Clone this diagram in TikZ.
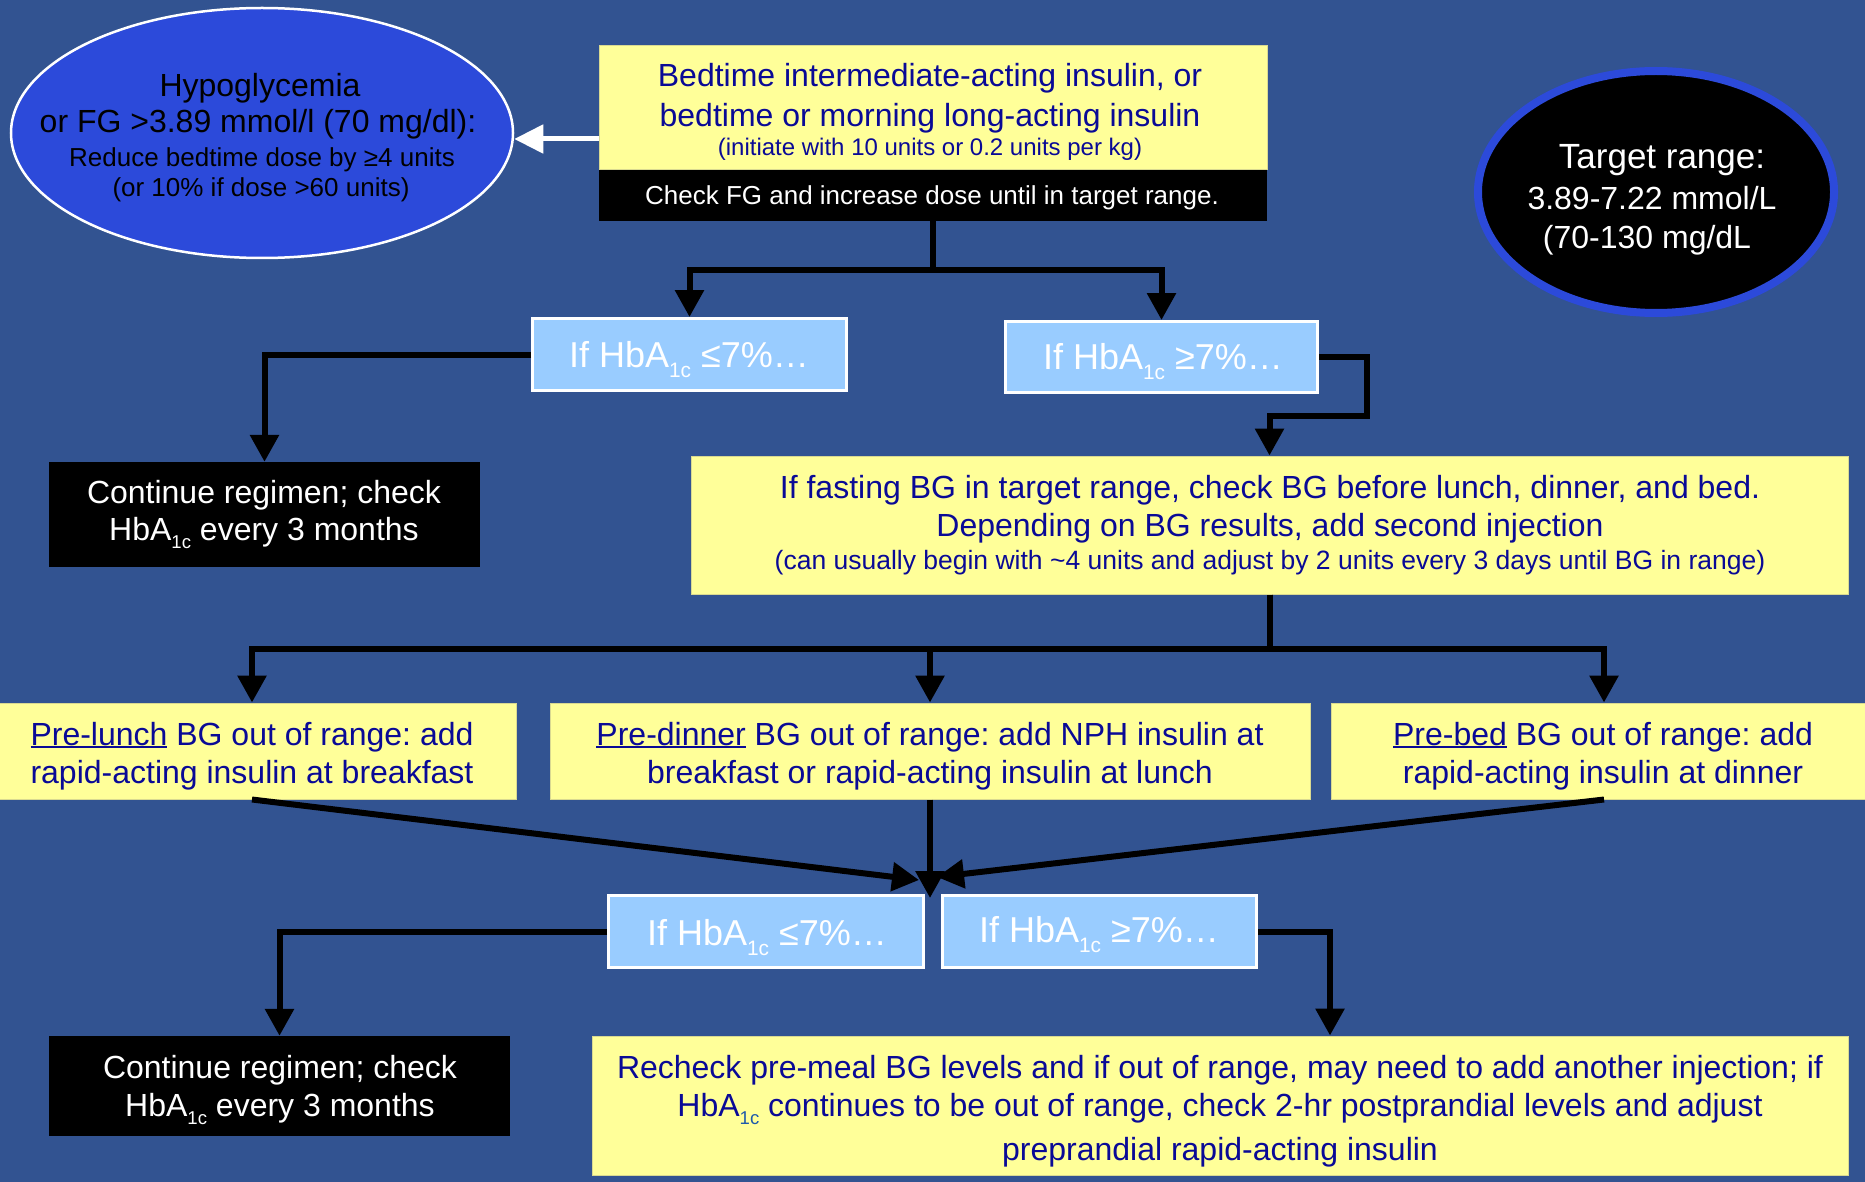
\documentclass[tikz,border=0pt]{standalone}
\usepackage{fontspec}
\setmainfont{Liberation Sans}
\usetikzlibrary{shapes.geometric,arrows.meta}
\definecolor{bgblue}{RGB}{50,83,145}
\definecolor{ellblue}{RGB}{44,74,218}
\definecolor{pyellow}{RGB}{255,255,153}
\definecolor{navy}{RGB}{10,10,150}
\definecolor{lblue}{RGB}{153,204,255}
\definecolor{subblue}{RGB}{30,90,170}
\newcommand\sbs[1]{\raisebox{-0.28em}{\scalebox{0.58}{#1}}}
\newcommand\uln[1]{\setbox0=\hbox{#1}\rlap{\rule[-0.09em]{\wd0}{0.06em}}\box0\relax}
\newcommand\fsz[1]{\fontsize{#1}{#1}\selectfont}
\frenchspacing
\tikzset{
  boxy/.style={rectangle, fill=pyellow, draw=pyellow!70!gray, line width=1, inner sep=0},
  boxk/.style={rectangle, fill=black, inner sep=0},
  boxh/.style={rectangle, fill=lblue, draw=white, line width=3, inner sep=0},
  tx/.style={inner sep=0, anchor=base},
  arr/.style={draw=black, line width=6, -{Triangle[width=28pt,length=27pt]}},
  warr/.style={draw=white, line width=5, -{Triangle[width=28pt,length=29pt]}},
}
\begin{document}
\frenchspacing
\begin{tikzpicture}[x=1pt,y=-1pt]
\fill[bgblue] (0,0) rectangle (1865,1182);
\useasboundingbox (0,0) rectangle (1865,1182);

% shapes
\node[ellipse, fill=ellblue, draw=white, line width=2.5, minimum width=502, minimum height=250, inner sep=0] (hypo) at (262,133) {};
\node[ellipse, fill=black, draw=ellblue, line width=8, minimum width=356, minimum height=242, inner sep=0] (tgt) at (1656,192) {};
\node[boxy, minimum width=668, minimum height=124] (topY) at (933,108) {};
\node[boxk, minimum width=668, minimum height=51] (chk) at (933,195.5) {};
\node[boxh, minimum width=314, minimum height=72] (hL1) at (689.5,354.5) {};
\node[boxh, minimum width=312, minimum height=71] (hR1) at (1161.5,357) {};
\node[boxk, minimum width=431, minimum height=105] (c1) at (264.5,514.5) {};
\node[boxy, minimum width=1157, minimum height=138] (b2) at (1269.5,525) {};
\node[boxy, minimum width=528, minimum height=96] (ra) at (252,751) {};
\node[boxy, minimum width=760, minimum height=96] (rb) at (930,751) {};
\node[boxy, minimum width=546, minimum height=96] (rc) at (1604,751) {};
\node[boxh, minimum width=315, minimum height=72] (hL2) at (766,931.5) {};
\node[boxh, minimum width=314, minimum height=72] (hR2) at (1099.5,931.5) {};
\node[boxk, minimum width=461, minimum height=100] (c2) at (279.5,1086) {};
\node[boxy, minimum width=1256, minimum height=139] (b3) at (1220,1105.5) {};

% texts
\node[tx, font=\fsz{32}] (hy1) at (260,97) {Hypoglycemia};
\node[tx, font=\fsz{32}] (hy2) at (258,133) {or FG >3.89 mmol/l (70 mg/dl):};
\node[tx, font=\fsz{26}] (hy3) at (262,167) {Reduce bedtime dose by ≥4 units};
\node[tx, font=\fsz{26}] (hy4) at (261,197) {(or 10\% if dose >60 units)};

\node[tx, font=\fsz{32}, text=navy] (tp1) at (930,87) {Bedtime intermediate-acting insulin, or};
\node[tx, font=\fsz{32}, text=navy] (tp2) at (930,127) {bedtime or morning long-acting insulin};
\node[tx, font=\fsz{24}, text=navy] (tp3) at (930,156) {(initiate with 10 units or 0.2 units per kg)};
\node[tx, font=\fsz{26}, text=white] (ck1) at (932,205) {Check FG and increase dose until in target range.};

\node[tx, font=\fsz{35}, text=white] (tg1) at (1662,169) {Target range:};
\node[tx, font=\fsz{32}, text=white] (tg2) at (1652,210) {3.89-7.22 mmol/L};
\node[tx, font=\fsz{32}, text=white] (tg3) at (1647,249) {(70-130 mg/dL};

\node[tx, font=\fsz{36}, text=white] (hl1t) at (689,367) {If HbA\sbs{1c} ≤7\%…};
\node[tx, font=\fsz{36}, text=white] (hr1t) at (1163,369) {If HbA\sbs{1c} ≥7\%…};

\node[tx, font=\fsz{32}, text=white] (c1a) at (264,503) {Continue regimen; check};
\node[tx, font=\fsz{32}, text=white] (c1b) at (264,540) {HbA\sbs{1c} every 3 months};

\node[tx, font=\fsz{32}, text=navy] (b2a) at (1270,498) {If fasting BG in target range, check BG before lunch, dinner, and bed.};
\node[tx, font=\fsz{32}, text=navy] (b2b) at (1270,536) {Depending on BG results, add second injection};
\node[tx, font=\fsz{26.5}, text=navy] (b2c) at (1270,569) {(can usually begin with \textasciitilde4 units and adjust by 2 units every 3 days until BG in range)};

\node[tx, font=\fsz{32}, text=navy] (raa) at (252,745) {\uln{Pre-lunch} BG out of range: add};
\node[tx, font=\fsz{32}, text=navy] (rab) at (252,783) {rapid-acting insulin at breakfast};
\node[tx, font=\fsz{32}, text=navy] (rba) at (930,745) {\uln{Pre-dinner} BG out of range: add NPH insulin at};
\node[tx, font=\fsz{32}, text=navy] (rbb) at (930,783) {breakfast or rapid-acting insulin at lunch};
\node[tx, font=\fsz{32}, text=navy] (rca) at (1603,745) {\uln{Pre-bed} BG out of range: add};
\node[tx, font=\fsz{32}, text=navy] (rcb) at (1603,783) {rapid-acting insulin at dinner};

\node[tx, font=\fsz{36}, text=white] (hl2t) at (767,945) {If HbA\sbs{1c} ≤7\%…};
\node[tx, font=\fsz{36}, text=white] (hr2t) at (1099,942) {If HbA\sbs{1c} ≥7\%…};

\node[tx, font=\fsz{32}, text=white] (c2a) at (280,1078) {Continue regimen; check};
\node[tx, font=\fsz{32}, text=white] (c2b) at (280,1116) {HbA\sbs{1c} every 3 months};

\node[tx, font=\fsz{32}, text=navy] (b3a) at (1220,1078) {Recheck pre-meal BG levels and if out of range, may need to add another injection; if};
\node[tx, font=\fsz{32}, text=navy] (b3b) at (1220,1116) {HbA\textcolor{subblue}{\sbs{1c}} continues to be out of range, check 2-hr postprandial levels and adjust};
\node[tx, font=\fsz{32}, text=navy] (b3c) at (1220,1160) {preprandial rapid-acting insulin};

% connectors
\draw[warr] (topY.west |- 0,139) -- (hypo.east |- 0,139);
\draw[arr] (chk.south) -- ++(0,49) -| (hL1.north);
\draw[arr] (chk.south) -- ++(0,49) -| (hR1.north);
\draw[arr] (hL1.west) -| (c1.north);
\draw[arr] (hR1.east) -- ++(48,0) -- ++(0,59) -| (b2.north);
\draw[arr] (b2.south) -- ++(0,54) -| (ra.north);
\draw[arr] (b2.south) -- ++(0,54) -| (rb.north);
\draw[arr] (b2.south) -- ++(0,54) -| (rc.north);
\coordinate (mL) at (919,880);
\coordinate (mC) at (930,898);
\coordinate (mR) at (937,877);
\draw[arr] (ra.south) -- (mL);
\draw[arr] (rc.south) -- (mR);
\draw[arr] (rb.south) -- (mC);
\draw[arr] (hL2.west) -| (c2.north);
\draw[arr] (hR2.east) -| ([xshift=110pt]b3.north);
\end{tikzpicture}
\end{document}
